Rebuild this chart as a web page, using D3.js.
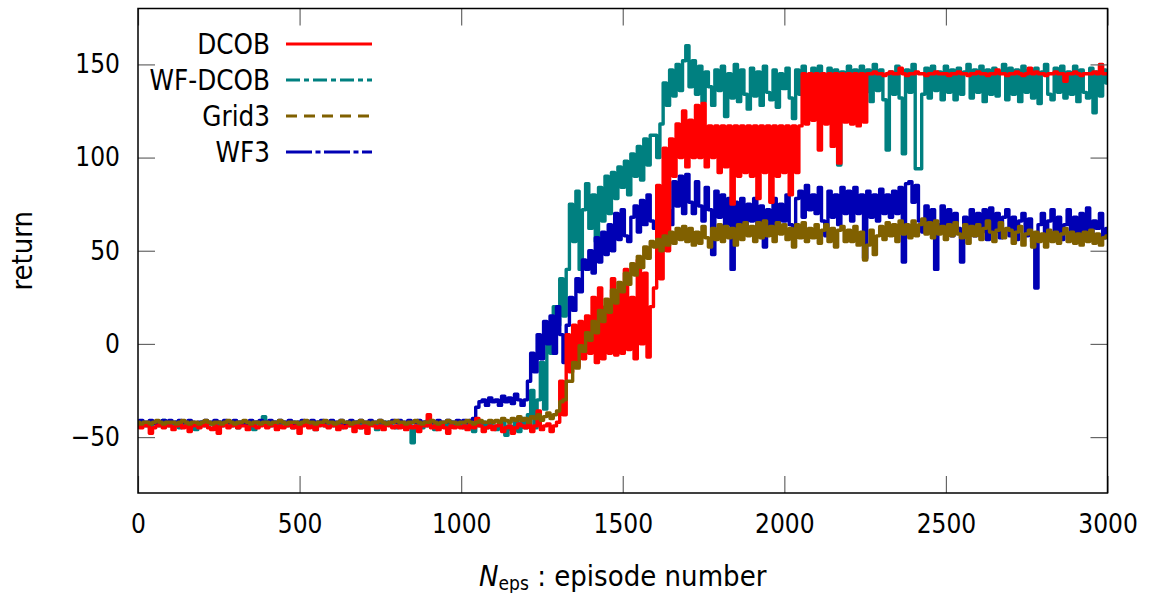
<!DOCTYPE html>
<html>
<head>
<meta charset="utf-8">
<title>Return vs episode</title>
<script src="https://d3js.org/d3.v7.min.js"></script>
<style>
  body { margin: 0; background: #fff; }
  text { font-family: "DejaVu Sans Condensed", "DejaVu Sans", sans-serif; }
</style>
</head>
<body>
<svg width="1149" height="593"></svg>
<script>
// episodes sampled every 10 episodes
const episodes = d3.range(0, 3001, 10);

const seriesNames = ["DCOB", "WF-DCOB", "Grid3", "WF3"];
const xTicks = [0, 500, 1000, 1500, 2000, 2500, 3000];
const yTicks = [-50, 0, 50, 100, 150];

// DCOB return (one value per 10 episodes)
const dcob = [
  -44,-45,-43,-44,-48,-45,-44,-43,-45,-44,
  -44,-46,-44,-43,-45,-44,-47,-44,-43,-45,
  -44,-43,-45,-46,-44,-48,-44,-43,-45,-44,
  -43,-45,-44,-44,-46,-43,-44,-45,-44,-43,
  -45,-44,-43,-46,-44,-45,-44,-43,-45,-44,
  -48,-44,-43,-45,-44,-46,-44,-43,-44,-45,
  -44,-43,-46,-44,-45,-44,-43,-47,-44,-45,
  -44,-48,-43,-44,-45,-44,-46,-43,-44,-45,
  -44,-45,-43,-46,-44,-45,-44,-47,-43,-44,
  -38,-45,-44,-46,-43,-45,-48,-44,-45,-44,
  -45,-44,-46,-43,-45,-40,-44,-47,-45,-44,
  -46,-44,-43,-47,-45,-44,-48,-45,-43,-44,
  -45,-43,-47,-44,-36,-46,-44,-43,-47,-44,
  -42,-20,-38,5,-15,10,-12,12,-8,15,
  -5,25,-10,30,-8,20,-5,35,-6,28,
  -5,40,-3,25,-8,45,0,38,-7,20,
  30,85,35,105,50,110,90,118,100,125,
  95,120,100,128,100,129,95,117,100,117,
  92,117,95,117,75,117,90,117,92,117,
  90,117,78,117,92,117,76,117,90,117,
  92,117,80,117,92,117,145,118,145,120,
  145,104,145,118,145,106,145,97,145,119,
  145,118,145,117,145,119,145,145,146,145,
  145,144,145,146,145,145,148,145,144,145,
  145,146,145,145,144,145,145,146,145,145,
  145,144,145,145,146,145,145,144,145,145,
  146,145,145,144,145,145,147,145,145,144,
  145,145,146,145,144,145,148,145,146,145,
  145,144,145,145,146,145,145,141,145,145,
  146,145,144,145,145,145,146,145,150,145,
  145
];

// WF-DCOB return
const wfDcob = [
  -43,-42,-44,-43,-45,-42,-43,-44,-41,-43,
  -44,-43,-42,-45,-43,-44,-42,-43,-46,-43,
  -42,-44,-43,-43,-45,-42,-44,-43,-42,-44,
  -43,-45,-42,-43,-44,-43,-46,-42,-43,-39,
  -43,-44,-42,-45,-43,-42,-44,-43,-45,-42,
  -44,-43,-42,-44,-43,-46,-42,-43,-44,-43,
  -42,-44,-43,-45,-43,-42,-44,-43,-42,-45,
  -43,-44,-42,-43,-46,-43,-44,-42,-43,-44,
  -45,-42,-43,-44,-42,-53,-44,-43,-45,-42,
  -44,-43,-46,-42,-44,-43,-45,-42,-44,-43,
  -43,-45,-42,-44,-47,-43,-44,-42,-45,-43,
  -44,-46,-43,-42,-49,-44,-46,-42,-47,-40,
  -45,-38,-25,-45,-30,-10,-35,5,-5,20,
  10,35,15,40,75,55,82,40,72,86,
  62,80,55,84,66,90,70,92,78,95,
  84,98,80,102,90,106,88,110,96,112,
  112,100,118,140,128,147,133,150,136,152,
  160,138,152,134,149,130,146,138,128,147,
  136,149,122,145,132,150,130,147,134,126,
  148,133,146,128,149,135,131,147,127,145,
  137,148,132,121,147,134,149,138,130,148,
  134,149,140,129,148,135,147,96,146,133,
  149,136,147,131,149,135,147,130,150,136,
  147,131,104,146,134,149,132,102,147,135,
  150,94,94,134,148,132,149,136,146,131,
  149,135,147,131,148,134,146,150,132,147,
  135,149,130,147,134,148,133,146,150,131,
  148,134,147,130,149,135,147,132,148,129,
  146,150,134,131,148,135,149,132,146,134,
  149,130,147,135,132,148,124,146,133,147,
  140
];

// Grid3 return
const grid3 = [
  -42,-43,-42,-42,-43,-42,-41,-42,-43,-42,
  -42,-42,-43,-42,-41,-42,-43,-42,-42,-43,
  -42,-41,-42,-43,-42,-42,-43,-42,-41,-42,
  -43,-42,-42,-41,-42,-43,-42,-42,-43,-42,
  -42,-43,-42,-42,-41,-42,-43,-42,-42,-42,
  -43,-42,-41,-42,-42,-43,-42,-42,-41,-42,
  -42,-43,-42,-41,-42,-42,-43,-42,-42,-41,
  -42,-42,-43,-42,-42,-41,-42,-43,-42,-42,
  -41,-42,-42,-43,-42,-42,-41,-42,-43,-42,
  -42,-41,-42,-43,-42,-42,-41,-42,-42,-43,
  -42,-42,-41,-42,-43,-42,-41,-42,-42,-41,
  -42,-41,-42,-40,-41,-42,-40,-41,-39,-41,
  -40,-42,-39,-40,-38,-41,-39,-37,-40,-38,
  -36,-31,-30,-20,-20,-10,-13,-1,-4,6,
  2,12,6,18,12,24,17,29,22,33,
  28,38,32,43,37,47,41,52,46,55,
  52,56,50,58,53,60,54,62,56,63,
  55,62,53,60,54,63,57,52,62,56,
  64,55,63,57,62,53,64,56,65,58,
  63,55,65,57,66,58,63,55,65,59,
  64,56,62,52,64,57,65,55,62,57,
  64,54,61,64,55,62,52,61,63,55,
  61,55,63,53,60,45,53,61,48,58,
  63,56,65,58,64,55,66,59,64,57,
  66,58,64,67,59,65,57,66,59,63,
  56,64,58,65,59,57,64,54,63,58,
  64,56,62,66,60,55,61,65,57,62,
  61,54,60,63,53,59,61,52,60,55,
  59,52,61,55,60,54,59,62,55,60,
  54,59,53,60,55,61,54,59,53,57,
  58
];

// WF3 return
const wf3 = [
  -42,-41,-42,-42,-41,-42,-43,-42,-41,-42,
  -41,-42,-42,-41,-42,-42,-41,-42,-43,-42,
  -42,-41,-42,-42,-41,-42,-42,-41,-42,-42,
  -41,-42,-42,-43,-42,-41,-42,-42,-41,-42,
  -42,-41,-42,-42,-41,-42,-42,-41,-42,-43,
  -42,-41,-42,-42,-41,-42,-42,-41,-42,-42,
  -41,-42,-42,-41,-43,-42,-41,-42,-42,-41,
  -42,-42,-41,-42,-42,-41,-42,-43,-42,-41,
  -42,-41,-42,-42,-41,-42,-42,-41,-42,-42,
  -41,-42,-42,-41,-42,-42,-41,-42,-42,-41,
  -42,-41,-42,-41,-40,-34,-31,-30,-33,-29,
  -31,-30,-33,-28,-31,-29,-32,-27,-30,-33,
  -30,-20,-5,-15,5,-8,12,0,15,-5,
  20,5,-10,10,25,18,35,28,45,40,
  50,38,57,44,60,48,64,50,70,56,
  72,58,55,68,74,60,77,64,80,66,
  62,82,68,84,72,64,87,74,90,70,
  91,76,70,87,74,66,84,72,48,82,
  68,80,64,78,40,76,62,78,60,75,
  66,78,62,74,52,72,64,78,60,75,
  66,80,64,58,78,82,68,85,72,80,
  70,84,66,58,82,68,80,64,84,70,
  82,66,84,70,80,46,82,68,80,66,
  83,70,80,68,82,70,84,44,86,87,
  76,85,66,60,74,62,72,40,64,74,
  60,72,58,70,62,44,68,60,72,58,
  70,60,72,56,73,60,70,57,68,72,
  58,68,56,66,70,58,67,55,30,64,
  70,58,66,72,58,68,56,64,72,57,
  68,56,70,60,73,58,66,62,70,57,
  62
];

const width = 1149, height = 593;
const margin = {left: 138, right: 41.5, top: 8.5, bottom: 100};
const iw = width - margin.left - margin.right;
const ih = height - margin.top - margin.bottom;

const svg = d3.select("svg");
const g = svg.append("g").attr("transform", `translate(${margin.left},${margin.top})`);

const x = d3.scaleLinear().domain([0, 3000]).range([0, iw]);
const y = d3.scaleLinear().domain([-80, 180]).range([ih, 0]);

// line styles roughly like the gnuplot terminal (dashes only show in the key,
// the dense data lines read as solid bands)
const styles = {
  "DCOB":    {values: dcob,   color: "#ff0000", dash: null},
  "WF-DCOB": {values: wfDcob, color: "#008080", dash: "14,4,5,4"},
  "Grid3":   {values: grid3,  color: "#806000", dash: "11,7"},
  "WF3":     {values: wf3,    color: "#0000b4", dash: "26,3.5,5,3.5"}
};
const drawOrder = ["WF-DCOB", "WF3", "DCOB", "Grid3"];

g.append("clipPath").attr("id", "clip")
  .append("rect").attr("width", iw).attr("height", ih);

// step curve so the dense per-episode noise reads as vertical spikes
const line = d3.line()
  .curve(d3.curveStep)
  .x((d, i) => x(episodes[i]))
  .y(d => y(d));

drawOrder.forEach(name => {
  const s = styles[name];
  g.append("path")
    .datum(s.values)
    .attr("clip-path", "url(#clip)")
    .attr("fill", "none")
    .attr("stroke", s.color)
    .attr("stroke-width", 3.4)
    .attr("stroke-linejoin", "round")
    .attr("d", line);
});

// axes: inward ticks, mirrored on top/right
const tickLen = 17;
function styleAxis(sel) {
  sel.select(".domain").remove();
  sel.selectAll(".tick line").attr("stroke", "#666").attr("stroke-width", 1.2);
  sel.selectAll(".tick text").attr("fill", "#000").style("font-size", "26px");
}

g.append("g")
  .attr("transform", `translate(0,${ih})`)
  .call(d3.axisBottom(x).tickValues(xTicks).tickFormat(d3.format("d")).tickSize(-tickLen).tickPadding(22))
  .call(styleAxis);
g.append("g")
  .call(d3.axisTop(x).tickValues(xTicks).tickFormat("").tickSize(-tickLen))
  .call(styleAxis);
g.append("g")
  .call(d3.axisLeft(y).tickValues(yTicks).tickFormat(d3.format("d")).tickSize(-tickLen).tickPadding(18))
  .call(styleAxis);
g.append("g")
  .attr("transform", `translate(${iw},0)`)
  .call(d3.axisRight(y).tickValues(yTicks).tickFormat("").tickSize(-tickLen))
  .call(styleAxis);

g.append("rect")
  .attr("width", iw).attr("height", ih)
  .attr("fill", "none").attr("stroke", "#000").attr("stroke-width", 1.5);

// legend
const legend = svg.append("g");
seriesNames.forEach((name, i) => {
  const s = styles[name];
  const ly = 44 + i * 36;
  legend.append("text")
    .attr("x", 270).attr("y", ly).attr("dy", "0.36em")
    .attr("text-anchor", "end")
    .style("font-size", "27.5px")
    .text(name);
  legend.append("line")
    .attr("x1", 286).attr("x2", 372).attr("y1", ly).attr("y2", ly)
    .attr("stroke", s.color).attr("stroke-width", 3)
    .attr("stroke-dasharray", s.dash);
});

// axis titles
svg.append("text")
  .attr("transform", `translate(32,${margin.top + ih / 2}) rotate(-90)`)
  .attr("text-anchor", "middle")
  .style("font-size", "29px")
  .text("return");

const xt = svg.append("text")
  .attr("x", margin.left + iw / 2).attr("y", 586)
  .attr("text-anchor", "middle")
  .style("font-size", "29px");
xt.append("tspan").style("font-style", "italic").text("N");
xt.append("tspan").style("font-size", "19px").attr("dy", 4).text("eps");
xt.append("tspan").attr("dy", -4).text(" : episode number");
</script>
</body>
</html>
